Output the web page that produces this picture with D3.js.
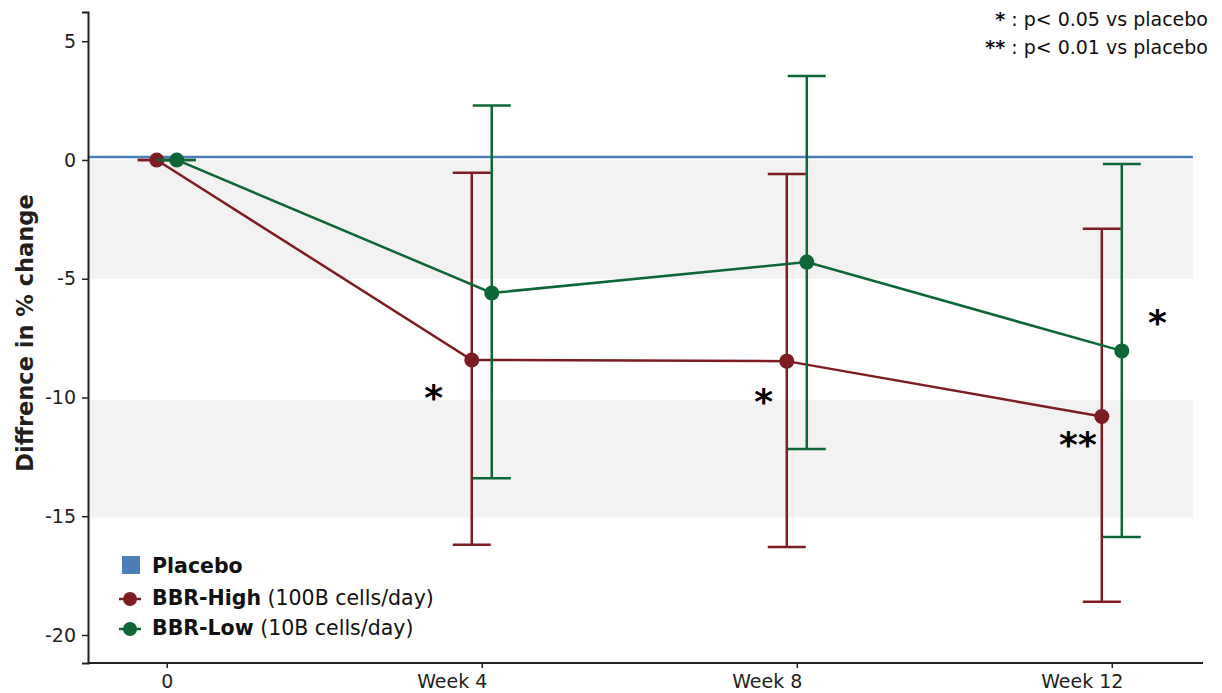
<!DOCTYPE html>
<html>
<head>
<meta charset="utf-8">
<script src="https://cdn.jsdelivr.net/npm/d3@7"></script>
<style>
  body { margin: 0; background: #fff; }
  svg { display: block; font-family: "DejaVu Sans", sans-serif; }
</style>
</head>
<body>
<svg id="chart" width="1222" height="693"></svg>
<script>
// data
const weeks = [0, 4, 8, 12];
const weekLabels = ["0", "Week 4", "Week 8", "Week 12"];
const yTicks = [5, 0, -5, -10, -15, -20];

const highMean  = [0, -8.42, -8.47, -10.8];
const highLower = [0, -16.2, -16.3, -18.6];
const highUpper = [0, -0.54, -0.59, -2.9];

const lowMean  = [0, -5.6, -4.3, -8.04];
const lowLower = [0, -13.4, -12.17, -15.87];
const lowUpper = [0, 2.29, 3.54, -0.17];

const placeboDiff = 0.13;
const shadedBands = [[0, -5], [-10.1, -15.05]];

// significance marks: [week position, y value, label]
const sigMarks = [[3.39, -9.8, "*"], [7.58, -10.0, "*"], [11.57, -11.8, "**"], [12.58, -6.65, "*"]];

const red = "#7d1c23", green = "#0c6636", blue = "#4b7fb7";

const svg = d3.select("#chart");
const x = d3.scaleLinear().domain([-1, 13.12]).range([88, 1200]);
const y = d3.scaleLinear().domain([-21.18, 6.23]).range([663, 12]);
const plotRight = x(13.03);
const offset = 10;   // dodge between the two series
const capW = 19;

// grey bands
svg.append("g").selectAll("rect").data(shadedBands).join("rect")
    .attr("x", x(-1)).attr("width", plotRight - x(-1))
    .attr("y", d => y(d[0])).attr("height", d => y(d[1]) - y(d[0]))
    .attr("fill", "#f2f2f2");

// placebo reference line
svg.append("line")
    .attr("x1", x(-1)).attr("x2", plotRight)
    .attr("y1", y(placeboDiff)).attr("y2", y(placeboDiff))
    .attr("stroke", blue).attr("stroke-width", 2.5);

// axes
const yAxis = svg.append("g")
    .attr("transform", `translate(${x(-1)},0)`)
    .call(d3.axisLeft(y).tickValues(yTicks).tickSize(6).tickPadding(6).tickFormat(d => String(d)));
const xAxis = svg.append("g")
    .attr("transform", `translate(0,${y(-21.18)})`)
    .call(d3.axisBottom(x).tickValues(weeks).tickSize(5).tickPadding(7).tickFormat((d, i) => weekLabels[i]));
[yAxis, xAxis].forEach(a => {
    a.select(".domain").attr("stroke", "#231f20").attr("stroke-width", 2);
    a.selectAll(".tick line").attr("stroke", "#231f20").attr("stroke-width", 1.5);
    a.selectAll("text").attr("fill", "#231f20").style("font-size", "19px")
        .style("font-family", "DejaVu Sans");
});
xAxis.select(".domain").attr("d", `M${x(-1)},0H1203`);
xAxis.selectAll(".tick text").attr("dx", (d, i) => i === 0 ? 0 : -30);

svg.append("text")
    .attr("transform", `translate(33,333) rotate(-90)`)
    .attr("text-anchor", "middle")
    .style("font-size", "22.5px").style("font-weight", "bold").attr("fill", "#231f20")
    .text("Diffrence in % change");

function drawSeries(mean, lower, upper, color, dx) {
    const g = svg.append("g");
    const px = i => x(weeks[i]) + dx;
    g.append("path")
        .attr("d", d3.line().x((d, i) => px(i)).y(d => y(d))(mean))
        .attr("fill", "none").attr("stroke", color).attr("stroke-width", 2.5);
    weeks.forEach((w, i) => {
        g.append("line").attr("x1", px(i)).attr("x2", px(i))
            .attr("y1", y(upper[i])).attr("y2", y(lower[i]))
            .attr("stroke", color).attr("stroke-width", 2.5);
        [upper[i], lower[i]].forEach(v => {
            g.append("line").attr("x1", px(i) - capW).attr("x2", px(i) + capW)
                .attr("y1", y(v)).attr("y2", y(v))
                .attr("stroke", color).attr("stroke-width", 2.5);
        });
    });
    g.selectAll("circle").data(mean).join("circle")
        .attr("cx", (d, i) => px(i)).attr("cy", d => y(d)).attr("r", 7.5)
        .attr("fill", color);
}
drawSeries(highMean, highLower, highUpper, red, -offset);
drawSeries(lowMean, lowLower, lowUpper, green, offset);

// significance asterisks
svg.append("g").selectAll("text").data(sigMarks).join("text")
    .attr("x", d => x(d[0])).attr("y", d => y(d[1]) + 17)
    .attr("text-anchor", "middle")
    .style("font-size", "36px").style("font-weight", "bold")
    .text(d => d[2]);

// legend
const lg = svg.append("g").style("font-size", "20.5px").attr("fill", "#111");
lg.append("rect").attr("x", 122).attr("y", 556).attr("width", 18).attr("height", 18).attr("fill", blue);
lg.append("text").attr("x", 152).attr("y", 573).style("font-weight", "bold").text("Placebo");
[[red, 599, "BBR-High", " (100B cells/day)"], [green, 629, "BBR-Low", " (10B cells/day)"]].forEach(([c, cy, b, n]) => {
    lg.append("line").attr("x1", 119).attr("x2", 141).attr("y1", cy).attr("y2", cy)
        .attr("stroke", c).attr("stroke-width", 2.5);
    lg.append("circle").attr("cx", 130).attr("cy", cy).attr("r", 7).attr("fill", c);
    const t = lg.append("text").attr("x", 152).attr("y", cy + 6);
    t.append("tspan").style("font-weight", "bold").text(b);
    t.append("tspan").text(n);
});

// note top right
const note = svg.append("g").style("font-size", "19px").attr("fill", "#111").attr("text-anchor", "end");
[["*", " : p< 0.05 vs placebo", 26], ["**", " : p< 0.01 vs placebo", 54]].forEach(([s, rest, ty]) => {
    const t = note.append("text").attr("x", 1208).attr("y", ty);
    t.append("tspan").style("font-weight", "bold").text(s);
    t.append("tspan").text(rest);
});
</script>
</body>
</html>
